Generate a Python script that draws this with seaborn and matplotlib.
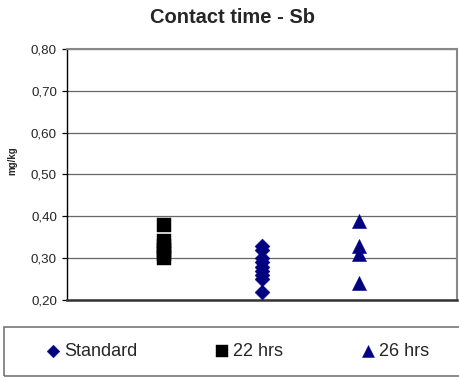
import seaborn as sns
import matplotlib.pyplot as plt
import pandas as pd
from matplotlib.ticker import FuncFormatter
from matplotlib.patches import Rectangle

# values (mg/kg)
standard = [0.33, 0.32, 0.30, 0.29, 0.28, 0.27, 0.26, 0.25, 0.22]
hrs22 = [0.38, 0.34, 0.33, 0.32, 0.31, 0.30]
hrs26 = [0.39, 0.33, 0.31, 0.24]
series_names = ["Standard", "22 hrs", "26 hrs"]
x_pos = {"22 hrs": 1, "Standard": 2, "26 hrs": 3}
y_ticks = [0.2, 0.3, 0.4, 0.5, 0.6, 0.7, 0.8]

rows = []
for name, vals in zip(series_names, [standard, hrs22, hrs26]):
    for v in vals:
        rows.append({"series": name, "x": x_pos[name], "value": v})
df = pd.DataFrame(rows)

sns.set_style("white")
plt.rcParams['font.family'] = ['Liberation Sans', 'DejaVu Sans']

fig = plt.figure(figsize=(4.6, 3.77), dpi=100)
ax = fig.add_axes([67 / 460, 1 - 300 / 377, 390 / 460, 251 / 377])

palette = {"Standard": "#000080", "22 hrs": "black", "26 hrs": "#000080"}
markers = {"Standard": "D", "22 hrs": "s", "26 hrs": "^"}
sizes = {"Standard": 58, "22 hrs": 100, "26 hrs": 105}
for name in series_names:
    sub = df[df["series"] == name]
    sns.scatterplot(data=sub, x="x", y="value", color=palette[name],
                    marker=markers[name], s=sizes[name], edgecolor=palette[name],
                    linewidth=0.3, ax=ax, label=name, zorder=3)

ax.set_xlim(0, 4)
ax.set_ylim(0.2, 0.8)
ax.set_yticks(y_ticks)
ax.yaxis.set_major_formatter(FuncFormatter(lambda v, p: f"{v:.2f}".replace(".", ",")))
ax.set_xticks([])
ax.grid(axis="y", color="#666666", linewidth=0.9)
ax.set_xlabel("")
ax.set_ylabel("mg/kg", fontsize=7, fontweight="bold")
ax.yaxis.set_label_coords(-0.128, 0.554)
ax.tick_params(axis="y", labelsize=9.6, length=3.6, width=0.9, direction="out",
               left=True, pad=3.6, color="black")

fig.text(232.5 / 460, 1 - 17.5 / 377, "Contact time - Sb", fontsize=14.5,
         fontweight="bold", ha="center", va="center")

for side in ["top", "right"]:
    ax.spines[side].set_color("#888888")
    ax.spines[side].set_linewidth(1.5)
ax.spines["left"].set_color("black")
ax.spines["left"].set_linewidth(1.0)
ax.spines["bottom"].set_color("#333333")
ax.spines["bottom"].set_linewidth(1.8)

handles, labels = ax.get_legend_handles_labels()
ax.get_legend().remove()

# legend frame
fig.patches.append(Rectangle((4 / 460, 1 - 376 / 377), 460 / 460, 49 / 377,
                             transform=fig.transFigure, fill=False,
                             edgecolor="#777777", linewidth=1.2))
leg = fig.legend(handles, labels, ncol=3, loc="center",
                 bbox_to_anchor=(237.5 / 460, 1 - 351.5 / 377),
                 frameon=False, fontsize=13, handletextpad=0.2,
                 handlelength=0.8, columnspacing=4.3, markerscale=0.85)

fig.savefig("out.png", dpi=100)
